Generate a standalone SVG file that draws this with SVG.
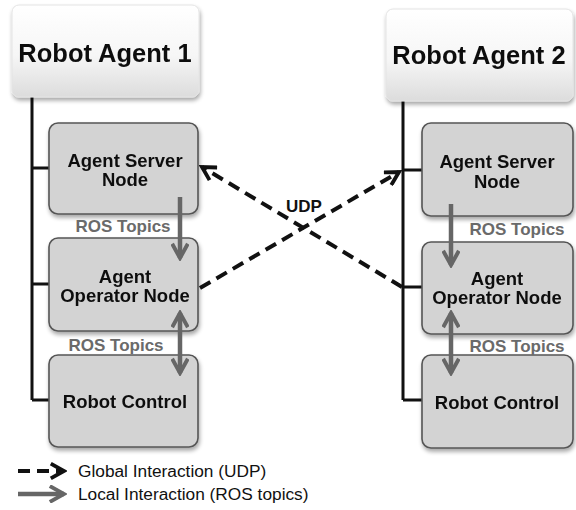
<svg xmlns="http://www.w3.org/2000/svg" width="576" height="510" viewBox="0 0 576 510">
  <defs>
    <linearGradient id="agentFill" x1="0" y1="0" x2="0" y2="1">
      <stop offset="0" stop-color="#ffffff"/>
      <stop offset="0.55" stop-color="#f6f6f6"/>
      <stop offset="1" stop-color="#dcdcdc"/>
    </linearGradient>
    <filter id="shadow" x="-10%" y="-10%" width="125%" height="130%">
      <feGaussianBlur in="SourceAlpha" stdDeviation="2"/>
      <feOffset dx="1" dy="3" result="b"/>
      <feComponentTransfer><feFuncA type="linear" slope="0.35"/></feComponentTransfer>
      <feMerge><feMergeNode/><feMergeNode in="SourceGraphic"/></feMerge>
    </filter>
    <marker id="udpHead" viewBox="0 0 12 12" refX="10" refY="6" markerWidth="4.4" markerHeight="4.4" orient="auto-start-reverse" markerUnits="strokeWidth">
      <path d="M1,1 L10,6 L1,11" fill="none" stroke="#111" stroke-width="2.6"/>
    </marker>
    <marker id="rosHead" viewBox="0 0 12 12" refX="10" refY="6" markerWidth="4.2" markerHeight="4.2" orient="auto-start-reverse" markerUnits="strokeWidth">
      <path d="M1,1 L10,6 L1,11" fill="none" stroke="#666" stroke-width="2.5"/>
    </marker>
  </defs>
  <style>
    .agent { fill: url(#agentFill); stroke: #e4e4e4; stroke-width: 1; }
    .node { fill: #d3d3d3; stroke: #555; stroke-width: 1.6; }
    .title { font-family: "Liberation Sans", Arial, sans-serif; font-weight: bold; font-size: 25.5px; fill: #111; text-anchor: middle; }
    .label { font-family: "Liberation Sans", Arial, sans-serif; font-weight: bold; font-size: 18.5px; fill: #111; text-anchor: middle; }
    .ros { font-family: "Liberation Sans", Arial, sans-serif; font-weight: bold; font-size: 17px; fill: #6a6a6a; text-anchor: middle; }
    .udp { font-family: "Liberation Sans", Arial, sans-serif; font-weight: bold; font-size: 17px; fill: #111; text-anchor: middle; }
    .legend { font-family: "Liberation Sans", Arial, sans-serif; font-size: 17.3px; fill: #111; }
    .tree { fill: none; stroke: #111; stroke-width: 3; }
    .udpLine { fill: none; stroke: #111; stroke-width: 4; stroke-dasharray: 12 7; }
    .rosLine { fill: none; stroke: #666; stroke-width: 4.5; }
  </style>

  <rect width="576" height="510" fill="#ffffff"/>

  <!-- hierarchy lines from each agent to its nodes -->
  <g id="hierarchy">
    <path class="tree" d="M32,97 V400 M32,168 H50 M32,284 H50 M32,400 H50"/>
    <path class="tree" d="M403,100 V400 M403,170 H423 M403,287 H423 M403,400 H423"/>
  </g>

  <g id="agent1" filter="url(#shadow)">
    <rect class="agent" x="12" y="5" width="187" height="92" rx="7"/>
    <text class="title" x="105" y="62">Robot Agent 1</text>
  </g>
  <g id="agent2" filter="url(#shadow)">
    <rect class="agent" x="386" y="9" width="187" height="92" rx="7"/>
    <text class="title" x="479" y="64">Robot Agent 2</text>
  </g>

  <g id="server1" filter="url(#shadow)">
    <rect class="node" x="49" y="123" width="149" height="91" rx="9"/>
    <text class="label" x="125" y="167">Agent Server</text>
    <text class="label" x="125" y="186">Node</text>
  </g>
  <g id="operator1" filter="url(#shadow)">
    <rect class="node" x="49" y="238" width="149" height="93" rx="9"/>
    <text class="label" x="125" y="283">Agent</text>
    <text class="label" x="125" y="302">Operator Node</text>
  </g>
  <g id="control1" filter="url(#shadow)">
    <rect class="node" x="49" y="355" width="149" height="92" rx="9"/>
    <text class="label" x="125" y="408">Robot Control</text>
  </g>

  <g id="server2" filter="url(#shadow)">
    <rect class="node" x="422" y="123" width="151" height="93" rx="9"/>
    <text class="label" x="497" y="168">Agent Server</text>
    <text class="label" x="497" y="188">Node</text>
  </g>
  <g id="operator2" filter="url(#shadow)">
    <rect class="node" x="422" y="242" width="151" height="92" rx="9"/>
    <text class="label" x="497" y="285">Agent</text>
    <text class="label" x="497" y="304">Operator Node</text>
  </g>
  <g id="control2" filter="url(#shadow)">
    <rect class="node" x="422" y="355" width="151" height="93" rx="9"/>
    <text class="label" x="497" y="409">Robot Control</text>
  </g>

  <g id="connectors">
    <!-- local ROS topic links -->
    <line class="rosLine" x1="180" y1="197" x2="180" y2="258" marker-end="url(#rosHead)"/>
    <line class="rosLine" x1="180" y1="313" x2="180" y2="373" marker-start="url(#rosHead)" marker-end="url(#rosHead)"/>
    <line class="rosLine" x1="451" y1="204" x2="451" y2="265" marker-end="url(#rosHead)"/>
    <line class="rosLine" x1="451" y1="313" x2="451" y2="373" marker-start="url(#rosHead)" marker-end="url(#rosHead)"/>
    <!-- global UDP links -->
    <line class="udpLine" x1="200" y1="288" x2="399" y2="172" marker-end="url(#udpHead)"/>
    <line class="udpLine" x1="402" y1="287" x2="202" y2="167" marker-end="url(#udpHead)"/>
  </g>

  <g id="connector-labels">
    <text class="ros" x="123" y="232">ROS Topics</text>
    <text class="ros" x="116" y="351">ROS Topics</text>
    <text class="ros" x="517" y="235">ROS Topics</text>
    <text class="ros" x="517" y="352">ROS Topics</text>
    <text class="udp" x="304" y="212">UDP</text>
  </g>

  <g id="legend">
    <line class="udpLine" x1="18" y1="471" x2="64" y2="471" stroke-dasharray="12 6" marker-end="url(#udpHead)"/>
    <line class="rosLine" x1="18" y1="494" x2="64" y2="494" marker-end="url(#rosHead)"/>
    <text class="legend" x="78" y="477">Global Interaction (UDP)</text>
    <text class="legend" x="78" y="500">Local Interaction (ROS topics)</text>
  </g>
</svg>
